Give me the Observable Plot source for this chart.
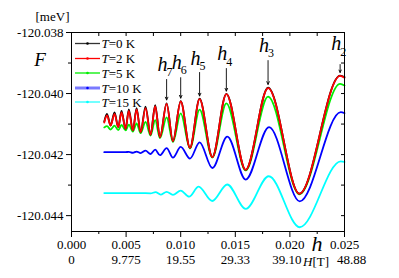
<!DOCTYPE html>
<html><head><meta charset="utf-8">
<script src="https://cdn.jsdelivr.net/npm/d3@7"></script>
<script src="https://cdn.jsdelivr.net/npm/@observablehq/plot@0.6"></script>
<style>
html,body{margin:0;padding:0;background:#fff;}
#chart{position:relative;width:399px;height:278px;}
</style></head><body><div id="chart"></div>
<script>
// ---- data ----
const hA = [0.00300, 0.00325, 0.00358, 0.00394, 0.00428, 0.00458, 0.00495, 0.00525, 0.00562, 0.00596, 0.00633, 0.00678, 0.00724, 0.00766, 0.00810, 0.00871, 0.00929, 0.01000, 0.01085, 0.01173, 0.01290, 0.01418, 0.01595, 0.01800, 0.02087, 0.02460, 0.02500];
const fT0 = [-120.04092, -120.04067, -120.04105, -120.04062, -120.04110, -120.04057, -120.04116, -120.04052, -120.04121, -120.04048, -120.04127, -120.04043, -120.04135, -120.04038, -120.04143, -120.04032, -120.04156, -120.04025, -120.04178, -120.04017, -120.04208, -120.04001, -120.04250, -120.03981, -120.04328, -120.03941, -120.03946];
const fT2 = [-120.04095, -120.04072, -120.04105, -120.04067, -120.04110, -120.04062, -120.04116, -120.04057, -120.04121, -120.04052, -120.04127, -120.04048, -120.04135, -120.04041, -120.04143, -120.04034, -120.04156, -120.04026, -120.04178, -120.04018, -120.04208, -120.04002, -120.04250, -120.03982, -120.04328, -120.03942, -120.03948];
const fT5 = [-120.04111, -120.04107, -120.04118, -120.04105, -120.04120, -120.04103, -120.04121, -120.04102, -120.04125, -120.04098, -120.04130, -120.04093, -120.04138, -120.04087, -120.04146, -120.04078, -120.04159, -120.04065, -120.04180, -120.04053, -120.04210, -120.04032, -120.04252, -120.04010, -120.04330, -120.03968, -120.03974];
const hB = [0.00300, 0.00495, 0.00525, 0.00562, 0.00596, 0.00633, 0.00678, 0.00724, 0.00766, 0.00810, 0.00871, 0.00929, 0.01000, 0.01085, 0.01173, 0.01290, 0.01427, 0.01595, 0.01809, 0.02090, 0.02466, 0.02500];
const fT10 = [-120.04192, -120.04192, -120.04191, -120.04194, -120.04190, -120.04195, -120.04187, -120.04198, -120.04184, -120.04202, -120.04179, -120.04210, -120.04175, -120.04213, -120.04160, -120.04244, -120.04141, -120.04282, -120.04110, -120.04353, -120.04061, -120.04064];
const hC = [0.00300, 0.00633, 0.00724, 0.00770, 0.00816, 0.00871, 0.00929, 0.01000, 0.01077, 0.01164, 0.01288, 0.01426, 0.01595, 0.01806, 0.02090, 0.02466, 0.02500];
const fT15 = [-120.04326, -120.04326, -120.04327, -120.04323, -120.04331, -120.04322, -120.04332, -120.04318, -120.04338, -120.04305, -120.04352, -120.04298, -120.04378, -120.04271, -120.04438, -120.04222, -120.04224];

const seriesNames = ["0", "2", "5", "10", "15"];
const seriesColors = ["#000000", "#ff0000", "#00ee00", "#0000ff", "#00ffff"];

// peak annotations h_n
const annH = [0.00871, 0.01000, 0.01173, 0.01418, 0.01800, 0.02460];
const annSub = ["7", "6", "5", "4", "3", "2"];
const annTail = [-120.03954, -120.03948, -120.03931, -120.03918, -120.03892, -120.03905];
const annTip = [-120.04021, -120.04015, -120.04008, -120.03992, -120.03970, -120.03931];
const annLabelF = [-120.03905, -120.03897, -120.03885, -120.03870, -120.03843, -120.03837];

// ticks
const xMajor = [0, 0.005, 0.010, 0.015, 0.020, 0.025];
const xMinor = [0.0025, 0.0075, 0.0125, 0.0175, 0.0225];
const xTop = [0.0025, 0.005, 0.0075, 0.010, 0.0125, 0.015, 0.0175, 0.020, 0.0225];
const fieldLabels = ["0", "9.775", "19.55", "29.33", "39.10", "48.88"];
const yMajor = [-120.044, -120.042, -120.040, -120.038];
const yMinor = [-120.043, -120.041, -120.039];
const yRight = [-120.044, -120.043, -120.042, -120.041, -120.040, -120.039];

// ---- build tables ----
const mk = (hs, fs, name) => hs.map((h, i) => ({h, F: fs[i], T: name}));
const sBlack = mk(hA, fT0, "0");
const sRed = mk(hA, fT2, "2");
const sGreen = mk(hA, fT5, "5");
const sBlue = mk(hB, fT10, "10");
const sCyan = mk(hC, fT15, "15");
const ann = annH.map((h, i) => ({h, sub: annSub[i], tail: annTail[i], tip: annTip[i], lab: annLabelF[i]}));
const row2 = fieldLabels.map((t, i) => ({h: xMajor[i], t, i}));

const line = (data, color) => Plot.line(data, {x: "h", y: "F", stroke: color, strokeWidth: 1.8, curve: "monotone-x"});
const noText = () => "";

const chart = Plot.plot({
  width: 399, height: 278,
  marginLeft: 71, marginRight: 55, marginTop: 32, marginBottom: 47,
  x: {domain: [0, 0.025]},
  y: {domain: [-120.04452, -120.038]},
  style: {fontFamily: "'Liberation Serif', 'Times New Roman', serif", fontSize: "13px", background: "#fff", color: "#000"},
  marks: [
    line(sCyan, seriesColors[4]),
    line(sBlue, seriesColors[3]),
    line(sGreen, seriesColors[2]),
    line(sBlack, seriesColors[0]),
    line(sRed, seriesColors[1]),
    Plot.arrow(ann, {x1: "h", x2: "h", y1: "tail", y2: "tip", stroke: "#000", strokeWidth: 0.9, headLength: 5, headAngle: 50}),
    Plot.text(ann, {x: "h", y: "lab", text: () => "h", dx: -4, fontSize: 20, fontStyle: "italic"}),
    Plot.text(ann, {x: "h", y: "lab", text: "sub", dx: 3, dy: 8, fontSize: 12}),
    Plot.frame({stroke: "#000", strokeWidth: 1}),
    Plot.axisX({anchor: "bottom", ticks: xMajor, tickSize: 6, tickPadding: 2, tickFormat: d => d.toFixed(3), label: null}),
    Plot.axisX({anchor: "bottom", ticks: xMinor, tickSize: 3, tickFormat: noText, label: null}),
    Plot.axisX({anchor: "top", ticks: xTop, tickSize: -3, tickFormat: noText, label: null}),
    Plot.axisY({anchor: "left", ticks: yMajor, tickSize: 5, tickPadding: 3, tickFormat: d => d.toFixed(3), label: null}),
    Plot.axisY({anchor: "left", ticks: yMinor, tickSize: 3, tickFormat: noText, label: null}),
    Plot.axisY({anchor: "right", ticks: yRight, tickSize: -4, tickFormat: noText, label: null}),
    Plot.text(row2.filter(d => d.i < 4), {x: "h", text: "t", frameAnchor: "bottom", dy: 32, fontSize: 13}),
    Plot.text(row2.filter(d => d.i === 4), {x: "h", text: "t", frameAnchor: "bottom", dy: 32, dx: -3, fontSize: 13}),
    Plot.text(row2.filter(d => d.i === 5), {x: "h", text: "t", frameAnchor: "bottom", dy: 32, dx: 7, fontSize: 13})
  ]
});
document.getElementById("chart").appendChild(chart);

// ---- decorations: axis titles and legend ----
const svg = d3.select(chart);
const ff = "'Liberation Serif', 'Times New Roman', serif";
svg.append("text").attr("x", 52.5).attr("y", 21).attr("text-anchor", "middle")
  .attr("font-family", ff).attr("font-size", 13).text("[meV]");
svg.append("text").attr("x", 40).attr("y", 66).attr("text-anchor", "middle")
  .attr("font-family", ff).attr("font-size", 19).attr("font-style", "italic").text("F");
svg.append("text").attr("x", 317).attr("y", 251).attr("text-anchor", "middle")
  .attr("font-family", ff).attr("font-size", 22).attr("font-style", "italic").text("h");
const ht = svg.append("text").attr("x", 303).attr("y", 266.2).attr("text-anchor", "start")
  .attr("font-family", ff).attr("font-size", 13);
ht.append("tspan").attr("font-style", "italic").text("H");
ht.append("tspan").text("[T]");

const legendY = [43.5, 58.5, 73, 88, 102];
const legendColors = ["#333333", "#ff0000", "#00ee00", "#7a7aff", "#00ffff"];
const legendWidths = [1.3, 1.3, 1.3, 3, 1.1];
const lg = svg.append("g");
seriesNames.forEach((n, i) => {
  const y = legendY[i];
  lg.append("line").attr("x1", 75).attr("x2", 100).attr("y1", y).attr("y2", y)
    .attr("stroke", legendColors[i]).attr("stroke-width", legendWidths[i]);
  lg.append("circle").attr("cx", 87.5).attr("cy", y).attr("r", 1.3).attr("fill", seriesColors[i]);
  const t = lg.append("text").attr("x", 101.5).attr("y", y + 4.5).attr("text-anchor", "start")
    .attr("font-family", ff).attr("font-size", 13);
  t.append("tspan").attr("font-style", "italic").text("T");
  t.append("tspan").text("=" + n + " K");
});
</script></body></html>
